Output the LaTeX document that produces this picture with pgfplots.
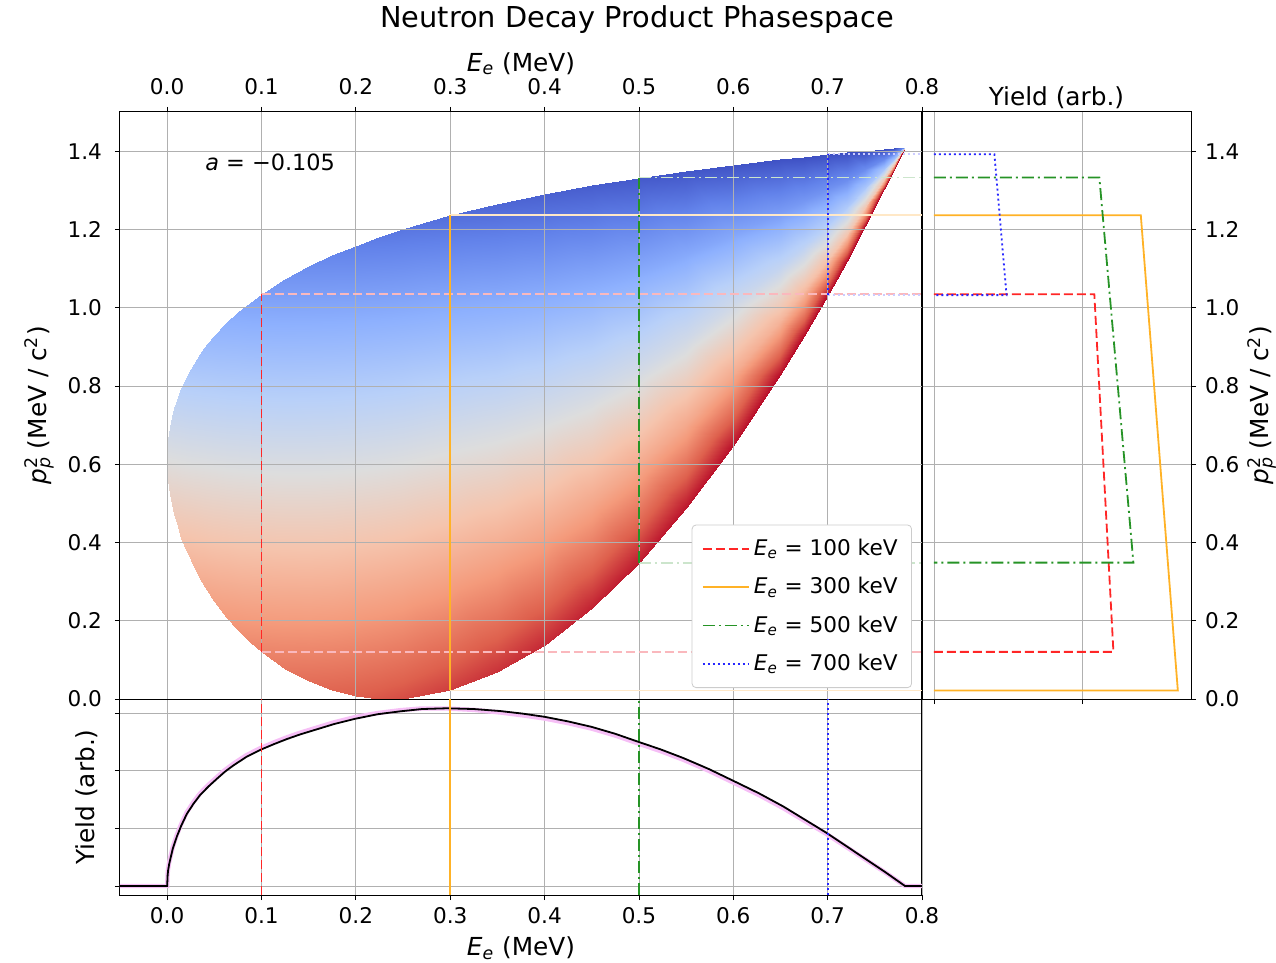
\documentclass[border=0pt]{standalone}
\usepackage{fontspec}
\setmainfont{DejaVu Sans}
\usepackage{pgfplots}
\pgfplotsset{compat=1.18}

\definecolor{mplred}{rgb}{1,0.15,0.15}
\definecolor{mplorange}{rgb}{1,0.70,0.15}
\definecolor{mplgreen}{rgb}{0.15,0.575,0.15}
\definecolor{mplblue}{rgb}{0.15,0.15,1}
\definecolor{fadered}{rgb}{0.98,0.72,0.74}
\definecolor{fadeorange}{rgb}{1,0.91,0.78}
\definecolor{fadegreen}{rgb}{0.80,0.90,0.80}
\definecolor{fadeblue}{rgb}{0.80,0.80,1}
\definecolor{gridgrey}{HTML}{B0B0B0}
\definecolor{mplviolet}{rgb}{0.965,0.75,0.965}

\pgfplotsset{colormap={coolwarm}{rgb255=(59,76,192) rgb255=(98,130,234) rgb255=(141,176,254) rgb255=(184,208,249) rgb255=(221,221,221) rgb255=(245,196,173) rgb255=(244,154,123) rgb255=(222,96,77) rgb255=(180,4,38)}}

\newcommand{\fs}{\fontsize{10.8}{13}\selectfont}
\newcommand{\fl}{\fontsize{12.4}{14.5}\selectfont}
\newcommand{\Ee}{\textit{E}\textsubscript{\textit{e}}}
\newcommand{\ppsq}{\textit{p}\rlap{\textsuperscript{2}}\textsubscript{\textit{p}}}

\tikzset{
  d1/.style={line width=0.9pt, dash pattern=on 4.5pt off 2pt},
  d3/.style={line width=0.9pt, solid},
  d5/.style={line width=0.9pt, dash pattern=on 6pt off 2pt on 1pt off 2pt},
  d7/.style={line width=0.9pt, dash pattern=on 1pt off 1.5pt},
  e1/.style={d1, draw=mplred},
  e3/.style={d3, draw=mplorange},
  e5/.style={d5, draw=mplgreen},
  e7/.style={d7, draw=mplblue},
}

\pgfplotsset{
  panel/.style={
    scale only axis,
    grid=major,
    grid style={color=gridgrey, line width=0.4pt},
    tick align=outside,
    major tick length=2.5pt,
    tick style={black, line width=0.4pt},
    axis line style={line width=0.5pt},
    tick label style={font=\fs},
    label style={font=\fl},
    /pgf/number format/assume math mode=true,
    xticklabel style={/pgf/number format/fixed, /pgf/number format/fixed zerofill, /pgf/number format/precision=1},
    yticklabel style={/pgf/number format/fixed, /pgf/number format/fixed zerofill, /pgf/number format/precision=1},
  }
}

\begin{document}
\begin{tikzpicture}
\path[use as bounding box] (-60pt,56pt) rectangle (578pt,-425.5pt);

\node[font=\fontsize{14.4}{17}\selectfont] at (258.5pt,46pt) {Neutron Decay Product Phasespace};

% main panel: phase space
\begin{axis}[
    panel,
    name=main,
    at={(0pt,0pt)}, anchor=north west,
    width=401pt, height=293.5pt,
    xmin=-0.05, xmax=0.8,
    ymin=0, ymax=1.5,
    xtick={0,0.1,0.2,0.3,0.4,0.5,0.6,0.7,0.8},
    ytick={0,0.2,0.4,0.6,0.8,1.0,1.2,1.4},
    xtick pos=upper, xticklabel pos=upper,
    ytick pos=left,
    xticklabel style={yshift=2.5pt},
    yticklabel style={xshift=-3pt},
    xlabel={\Ee{} (MeV)},
    xlabel style={yshift=-5pt},
    ylabel={\ppsq{} (MeV / c\textsuperscript{2})},
    colormap name=coolwarm,
    point meta min=-0.92, point meta max=0.92,
    legend cell align=left,
    legend image code/.code={\draw[#1] (0pt,0pt) -- (23pt,0pt);},
    legend style={at={(0.9875,0.0187)}, anchor=south east, draw=black!20,
        rounded corners=2pt, fill=white,
        font=\fs, row sep=5.5pt, inner xsep=5pt, inner ysep=5pt},
]

\addplot[surf, shader=interp, mesh/cols=5, point meta=explicit, forget plot]
table[x=x, y=y, meta=m] {
x y m
0 0.6115 0
0 0.6115 0
0 0.6115 0
0 0.6115 0
0 0.6115 0
0.0005 0.5759 0.0442
0.0005 0.5936 0.0221
0.0005 0.6113 0
0.0005 0.6289 -0.0221
0.0005 0.6466 -0.0442
0.001 0.5610 0.0625
0.001 0.5860 0.0312
0.001 0.6110 0
0.001 0.6360 -0.0312
0.001 0.6609 -0.0625
0.002 0.5398 0.0882
0.002 0.5751 0.0441
0.002 0.6104 0
0.002 0.6457 -0.0441
0.002 0.6810 -0.0882
0.003 0.5235 0.1079
0.003 0.5667 0.0539
0.003 0.6099 0
0.003 0.6531 -0.0539
0.003 0.6963 -0.1079
0.005 0.4975 0.1389
0.005 0.5532 0.0695
0.005 0.6089 0
0.005 0.6646 -0.0695
0.005 0.7203 -0.1389
0.0075 0.4715 0.1695
0.0075 0.5395 0.0847
0.0075 0.6076 0
0.0075 0.6756 -0.0847
0.0075 0.7437 -0.1695
0.01 0.4494 0.1950
0.01 0.5279 0.0975
0.01 0.6063 0
0.01 0.6847 -0.0975
0.01 0.7632 -0.1950
0.015 0.4125 0.2371
0.015 0.5082 0.1186
0.015 0.6038 0
0.015 0.6995 -0.1186
0.015 0.7952 -0.2371
0.02 0.3815 0.2719
0.02 0.4915 0.1360
0.02 0.6015 0
0.02 0.7115 -0.1360
0.02 0.8215 -0.2719
0.025 0.3543 0.3018
0.025 0.4768 0.1509
0.025 0.5992 0
0.025 0.7217 -0.1509
0.025 0.8442 -0.3018
0.035 0.3076 0.3523
0.035 0.4513 0.1762
0.035 0.5950 0
0.035 0.7387 -0.1762
0.035 0.8824 -0.3523
0.0425 0.2775 0.3843
0.0425 0.4348 0.1921
0.0425 0.5921 0
0.0425 0.7494 -0.1921
0.0425 0.9067 -0.3843
0.05 0.2504 0.4127
0.05 0.4199 0.2064
0.05 0.5894 0
0.05 0.7589 -0.2064
0.05 0.9284 -0.4127
0.0625 0.2108 0.4540
0.0625 0.3981 0.2270
0.0625 0.5855 0
0.0625 0.7728 -0.2270
0.0625 0.9601 -0.4540
0.075 0.1765 0.4895
0.075 0.3793 0.2448
0.075 0.5821 0
0.075 0.7849 -0.2448
0.075 0.9877 -0.4895
0.0875 0.1466 0.5206
0.0875 0.3630 0.2603
0.0875 0.5794 0
0.0875 0.7958 -0.2603
0.0875 1.0122 -0.5206
0.1 0.1204 0.5482
0.1 0.3489 0.2741
0.1 0.5773 0
0.1 0.8058 -0.2741
0.1 1.0342 -0.5482
0.125 0.0775 0.5954
0.125 0.3263 0.2977
0.125 0.5750 0
0.125 0.8238 -0.2977
0.125 1.0726 -0.5954
0.15 0.0452 0.6343
0.15 0.3102 0.3172
0.15 0.5752 0
0.15 0.8402 -0.3172
0.15 1.1052 -0.6343
0.175 0.0223 0.6672
0.175 0.3001 0.3336
0.175 0.5779 0
0.175 0.8557 -0.3336
0.175 1.1336 -0.6672
0.2 0.0076 0.6953
0.2 0.2954 0.3477
0.2 0.5831 0
0.2 0.8709 -0.3477
0.2 1.1586 -0.6953
0.225 0.0007 0.7197
0.225 0.2958 0.3598
0.225 0.5908 0
0.225 0.8859 -0.3598
0.225 1.1809 -0.7197
0.2375 0.0000 0.7307
0.2375 0.2978 0.3654
0.2375 0.5956 0
0.2375 0.8934 -0.3654
0.2375 1.1912 -0.7307
0.25 0.0010 0.7410
0.25 0.3010 0.3705
0.25 0.6010 0
0.25 0.9010 -0.3705
0.25 1.2010 -0.7410
0.3 0.0218 0.7765
0.3 0.3254 0.3883
0.3 0.6289 0
0.3 0.9325 -0.3883
0.3 1.2360 -0.7765
0.35 0.0681 0.8048
0.35 0.3675 0.3902
0.35 0.6668 -0.0161
0.35 0.9662 -0.4144
0.35 1.2655 -0.8048
0.4 0.1385 0.8279
0.4 0.4266 0.3886
0.4 0.7147 -0.0331
0.4 1.0028 -0.4383
0.4 1.2909 -0.8279
0.45 0.2322 0.8469
0.45 0.5024 0.3842
0.45 0.7726 -0.0508
0.45 1.0428 -0.4605
0.45 1.3130 -0.8469
0.5 0.3485 0.8629
0.5 0.5945 0.3775
0.5 0.8405 -0.0690
0.5 1.0865 -0.4812
0.5 1.3325 -0.8629
0.55 0.4869 0.8764
0.55 0.7027 0.3762
0.55 0.9184 -0.0789
0.55 1.1342 -0.4948
0.55 1.3499 -0.8764
0.6 0.6472 0.8879
0.6 0.8268 0.3739
0.6 1.0063 -0.0888
0.6 1.1859 -0.5073
0.6 1.3654 -0.8879
0.65 0.8290 0.8979
0.65 0.9666 0.3157
0.65 1.1042 -0.1616
0.65 1.2418 -0.5602
0.65 1.3794 -0.8979
0.675 0.9279 0.9024
0.675 1.0424 0.2839
0.675 1.1569 -0.1985
0.675 1.2714 -0.5853
0.675 1.3860 -0.9024
0.7 1.0320 0.9066
0.7 1.1221 0.2411
0.7 1.2121 -0.2448
0.7 1.3022 -0.6150
0.7 1.3922 -0.9066
0.72 1.1192 0.9098
0.72 1.1886 0.2141
0.72 1.2581 -0.2729
0.72 1.3275 -0.6329
0.72 1.3969 -0.9098
0.74 1.2097 0.9128
0.74 1.2577 0.1956
0.74 1.3056 -0.2921
0.74 1.3536 -0.6453
0.74 1.4015 -0.9128
0.76 1.3036 0.9156
0.76 1.3292 0.1765
0.76 1.3548 -0.3113
0.76 1.3804 -0.6573
0.76 1.4060 -0.9156
0.77 1.3518 0.9170
0.77 1.3659 0.1667
0.77 1.3800 -0.3210
0.77 1.3941 -0.6634
0.77 1.4082 -0.9170
0.782 1.4107 0.9186
0.782 1.4107 0.1670
0.782 1.4107 -0.3215
0.782 1.4107 -0.6645
0.782 1.4107 -0.9186
};

% grid lines over the coloured region, as in the original
\addplot[gridgrey, line width=0.4pt, forget plot] coordinates {(0,0) (0,1.5)};
\addplot[gridgrey, line width=0.4pt, forget plot] coordinates {(0.1,0) (0.1,1.5)};
\addplot[gridgrey, line width=0.4pt, forget plot] coordinates {(0.2,0) (0.2,1.5)};
\addplot[gridgrey, line width=0.4pt, forget plot] coordinates {(0.3,0) (0.3,1.5)};
\addplot[gridgrey, line width=0.4pt, forget plot] coordinates {(0.4,0) (0.4,1.5)};
\addplot[gridgrey, line width=0.4pt, forget plot] coordinates {(0.5,0) (0.5,1.5)};
\addplot[gridgrey, line width=0.4pt, forget plot] coordinates {(0.6,0) (0.6,1.5)};
\addplot[gridgrey, line width=0.4pt, forget plot] coordinates {(0.7,0) (0.7,1.5)};
\addplot[gridgrey, line width=0.4pt, forget plot] coordinates {(-0.05,0.2) (0.8,0.2)};
\addplot[gridgrey, line width=0.4pt, forget plot] coordinates {(-0.05,0.4) (0.8,0.4)};
\addplot[gridgrey, line width=0.4pt, forget plot] coordinates {(-0.05,0.6) (0.8,0.6)};
\addplot[gridgrey, line width=0.4pt, forget plot] coordinates {(-0.05,0.8) (0.8,0.8)};
\addplot[gridgrey, line width=0.4pt, forget plot] coordinates {(-0.05,1.0) (0.8,1.0)};
\addplot[gridgrey, line width=0.4pt, forget plot] coordinates {(-0.05,1.2) (0.8,1.2)};
\addplot[gridgrey, line width=0.4pt, forget plot] coordinates {(-0.05,1.4) (0.8,1.4)};

% faint projections towards the right panel
\addplot[d1, draw=fadered, forget plot] coordinates {(0.1,1.0342) (0.8,1.0342)};
\addplot[d1, draw=fadered, forget plot] coordinates {(0.1,0.1204) (0.8,0.1204)};
\addplot[d3, draw=fadeorange, forget plot] coordinates {(0.3,1.2360) (0.8,1.2360)};
\addplot[d3, draw=fadeorange, forget plot] coordinates {(0.3,0.0218) (0.8,0.0218)};
\addplot[d5, draw=fadegreen, forget plot] coordinates {(0.5,1.3325) (0.8,1.3325)};
\addplot[d5, draw=fadegreen, forget plot] coordinates {(0.5,0.3485) (0.8,0.3485)};
\addplot[d7, draw=fadeblue, forget plot] coordinates {(0.7,1.3922) (0.8,1.3922)};
\addplot[d7, draw=fadeblue, forget plot] coordinates {(0.7,1.0320) (0.8,1.0320)};

% allowed range at fixed electron energy
\addplot[e1] coordinates {(0.1,0.1204) (0.1,1.0342)};
\addlegendentry{\Ee{} = 100 keV}
\addplot[e3] coordinates {(0.3,0.0218) (0.3,1.2360)};
\addlegendentry{\Ee{} = 300 keV}
\addplot[e5] coordinates {(0.5,0.3485) (0.5,1.3325)};
\addlegendentry{\Ee{} = 500 keV}
\addplot[e7] coordinates {(0.7,1.0320) (0.7,1.3922)};
\addlegendentry{\Ee{} = 700 keV}

\node[anchor=west, font=\fontsize{11.2}{13}\selectfont] at (axis cs:0.033,1.372) {\textit{a} = −0.105};
\end{axis}

% bottom panel: electron spectrum
\begin{axis}[
    panel,
    at={(0pt,-293.5pt)}, anchor=north west,
    width=401pt, height=98pt,
    xmin=-0.05, xmax=0.8,
    ymin=-0.156, ymax=3.244,
    xtick={0,0.1,0.2,0.3,0.4,0.5,0.6,0.7,0.8},
    ytick={0,1,2,3}, yticklabels={},
    xtick pos=lower, ytick pos=left,
    xlabel={\Ee{} (MeV)},
    ylabel={Yield (arb.)},
    ylabel style={yshift=-2pt},
]
\addplot[mplviolet, line width=2.2pt] coordinates {
(-0.05,0) (0,0) (0.0005,0.22) (0.001,0.30) (0.002,0.40) (0.0035,0.51)
(0.006,0.68) (0.0103,0.89) (0.015,1.08) (0.0208,1.28) (0.028,1.46)
(0.035,1.61) (0.044,1.76) (0.0527,1.89) (0.061,2.01) (0.07,2.12)
(0.084,2.27) (0.0985,2.39) (0.113,2.49) (0.127,2.58) (0.141,2.66)
(0.155,2.73) (0.177,2.84) (0.199,2.93) (0.223,3.00) (0.247,3.05)
(0.27,3.08) (0.296,3.08) (0.325,3.055) (0.353,3.01) (0.377,2.96)
(0.40,2.905) (0.425,2.825) (0.45,2.73) (0.475,2.61) (0.4987,2.475)
(0.523,2.34) (0.547,2.19) (0.574,2.00) (0.60,1.795) (0.627,1.58)
(0.653,1.35) (0.676,1.125) (0.699,0.90) (0.72,0.675) (0.741,0.45)
(0.762,0.225) (0.782,0) (0.8,0)
};
\addplot[black, line width=0.9pt] coordinates {
(-0.05,0) (0,0) (0.0005,0.19) (0.001,0.27) (0.002,0.37) (0.0035,0.48)
(0.006,0.65) (0.0103,0.86) (0.015,1.05) (0.0208,1.25) (0.028,1.43)
(0.035,1.58) (0.044,1.73) (0.0527,1.86) (0.061,1.98) (0.07,2.09)
(0.084,2.24) (0.0985,2.36) (0.113,2.46) (0.127,2.55) (0.141,2.63)
(0.155,2.70) (0.177,2.81) (0.199,2.90) (0.223,2.98) (0.247,3.03)
(0.27,3.07) (0.296,3.083) (0.325,3.07) (0.353,3.035) (0.377,2.99)
(0.40,2.935) (0.425,2.855) (0.45,2.76) (0.475,2.64) (0.4987,2.505)
(0.523,2.37) (0.547,2.22) (0.574,2.03) (0.60,1.825) (0.627,1.61)
(0.653,1.38) (0.676,1.15) (0.699,0.92) (0.72,0.69) (0.741,0.46)
(0.762,0.23) (0.782,0) (0.8,0)
};
\addplot[e1] coordinates {(0.1,-0.156) (0.1,3.244)};
\addplot[e3] coordinates {(0.3,-0.156) (0.3,3.244)};
\addplot[e5] coordinates {(0.5,-0.156) (0.5,3.244)};
\addplot[e7] coordinates {(0.7,-0.156) (0.7,3.244)};
\end{axis}

% right panel: proton momentum spectra
\begin{axis}[
    panel,
    at={(401pt,0pt)}, anchor=north west,
    width=134.5pt, height=293.5pt,
    xmin=-0.081, xmax=1.736,
    ymin=0, ymax=1.5,
    xtick={0,1}, xticklabels={},
    ytick={0,0.2,0.4,0.6,0.8,1.0,1.2,1.4},
    xtick pos=lower,
    ytick pos=right, yticklabel pos=right,
    yticklabel style={xshift=1pt},
    ylabel={\ppsq{} (MeV / c\textsuperscript{2})},
    ylabel style={yshift=3pt},
    title={Yield (arb.)},
    title style={font=\fl, yshift=-8pt},
]
\addplot[e1] coordinates {(0,1.0342) (1.083,1.0342) (1.212,0.1204) (0,0.1204)};
\addplot[e3] coordinates {(0,1.2360) (1.397,1.2360) (1.647,0.0218) (0,0.0218)};
\addplot[e5] coordinates {(0,1.3325) (1.117,1.3325) (1.347,0.3485) (0,0.3485)};
\addplot[e7] coordinates {(0,1.3922) (0.408,1.3922) (0.490,1.0320) (0,1.0320)};
\end{axis}

\end{tikzpicture}
\end{document}
